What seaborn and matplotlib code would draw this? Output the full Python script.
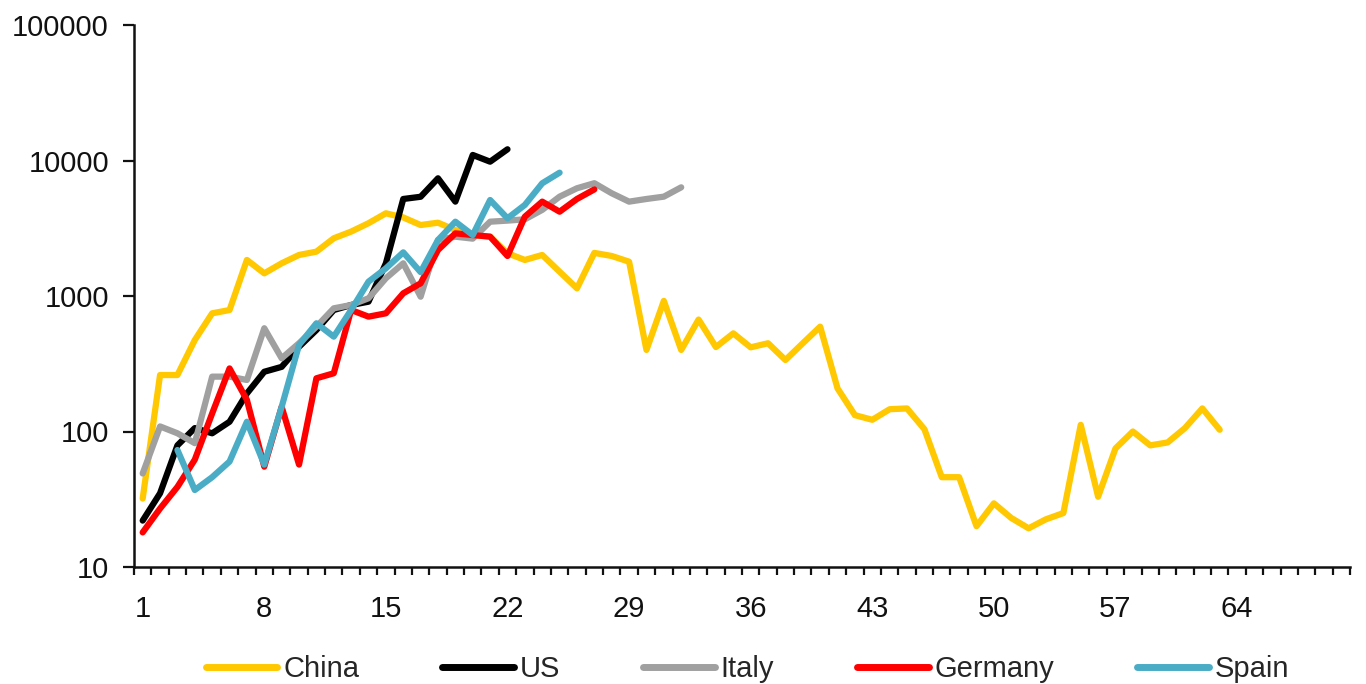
import matplotlib
matplotlib.use("Agg")
import matplotlib.pyplot as plt
from matplotlib import font_manager
from matplotlib.ticker import FixedLocator, NullFormatter, FixedFormatter, NullLocator
import numpy as np
import pandas as pd
import seaborn as sns

# Daily new confirmed cases by day since outbreak start
china = [32, 261, 261, 473, 745, 788, 1845, 1470, 1743, 2008, 2124, 2667, 2987,
         3445, 4077, 3800, 3340, 3475, 3070, 2818, 2741, 2066, 1845, 2008, 1511,
         1139, 2080, 1974, 1792, 400, 920, 400, 670, 420, 530, 418, 448, 337, 448,
         594, 208, 132, 122, 146, 148, 104, 46, 46, 20, 29.5, 23, 19.3, 22.5, 25,
         112, 33, 75, 100, 79, 83, 106, 148, 103]
us = [22, 35, 79, 106, 97, 118, 191, 276, 300, 422, 561, 788, 858, 908, 1743,
      5200, 5400, 7390, 4970, 10990, 9800, 12100]
italy = [49, 109, 97, 82, 254, 254, 240, 578, 347, 448, 594, 811, 858, 962, 1352,
         1743, 988, 2590, 2741, 2650, 3535, 3600, 3680, 4320, 5410, 6240, 6800,
         5730, 4970, 5200, 5410, 6340]
germany = [18, 27, 39, 62, 136, 292, 171, 55, 152, 57, 247, 269, 788, 704, 745,
           1047, 1240, 2185, 2900, 2818, 2741, 1974, 3850, 4970, 4190, 5200, 6120]
spain_start_day = 3
spain = [73, 37, 46, 60, 118, 57, 152, 435, 629, 501, 788, 1276, 1600, 2100, 1500,
         2590, 3535, 2818, 5110, 3745, 4700, 6790, 8130]

countries = ["China", "US", "Italy", "Germany", "Spain"]
colors = ["#FFC800", "#000000", "#A0A0A0", "#FF0000", "#4BACC6"]
x_tick_labels = ["1", "8", "15", "22", "29", "36", "43", "50", "57", "64"]
y_tick_labels = ["10", "100", "1000", "10000", "100000"]
n_days = 70

series = {
    "China": (1, china),
    "US": (1, us),
    "Italy": (1, italy),
    "Germany": (1, germany),
    "Spain": (spain_start_day, spain),
}
frames = []
for name in countries:
    start, vals = series[name]
    frames.append(pd.DataFrame({"day": np.arange(start, start + len(vals)),
                                "cases": vals, "country": name}))
df = pd.concat(frames, ignore_index=True)

sns.set_theme(style="white")
installed = {f.name for f in font_manager.fontManager.ttflist}
family = [f for f in ["Liberation Sans Narrow", "Liberation Sans", "DejaVu Sans"] if f in installed]
plt.rcParams["font.family"] = family
fs = 21

fig = plt.figure(figsize=(13.66, 6.84), dpi=100)
ax = fig.add_axes([134 / 1366, 1 - 567 / 684, (1350 - 134) / 1366, (567 - 25) / 684])

sns.lineplot(data=df, x="day", y="cases", hue="country", hue_order=countries,
             palette=dict(zip(countries, colors)), estimator=None, sort=False,
             linewidth=4.5, ax=ax, legend=False)
for line in ax.lines:
    line.set_solid_capstyle("round")
    line.set_solid_joinstyle("round")

ax.set_yscale("log")
ax.set_ylim(10, 100000)
ax.set_xlim(0.5, n_days + 0.5)
ax.set_xlabel("")
ax.set_ylabel("")

# category-style x axis: ticks on boundaries, labels every 7 days
ax.xaxis.set_major_locator(FixedLocator([int(t) for t in x_tick_labels]))
ax.xaxis.set_major_formatter(FixedFormatter(x_tick_labels))
ax.xaxis.set_minor_locator(FixedLocator(np.arange(0.5, n_days + 1, 1.0)))
ax.xaxis.set_minor_formatter(NullFormatter())
ax.tick_params(axis="x", which="major", length=0, pad=20, labelsize=fs, colors="#111111")
ax.tick_params(axis="x", which="minor", length=6, width=1.6, direction="out",
               color="#111111", bottom=True)

ax.yaxis.set_major_locator(FixedLocator([float(t) for t in y_tick_labels]))
ax.yaxis.set_major_formatter(FixedFormatter(y_tick_labels))
ax.yaxis.set_minor_locator(NullLocator())
ax.tick_params(axis="y", which="major", length=8, width=1.6, direction="out",
               pad=10, labelsize=fs, colors="#111111", left=True)

for side in ["top", "right"]:
    ax.spines[side].set_visible(False)
for side in ["left", "bottom"]:
    ax.spines[side].set_color("#111111")
    ax.spines[side].set_linewidth(1.8)
ax.grid(False)

handles = [plt.Line2D([], [], color=c, linewidth=5, solid_capstyle="round") for c in colors]
fig.legend(handles, countries, loc="center left", ncol=5, frameon=False,
           bbox_to_anchor=(206 / 1366, 1 - 669 / 684), fontsize=fs,
           handlelength=2.45, handletextpad=0.2, columnspacing=2.85,
           borderpad=0, borderaxespad=0)

fig.savefig("out.png", dpi=100, facecolor="white")
